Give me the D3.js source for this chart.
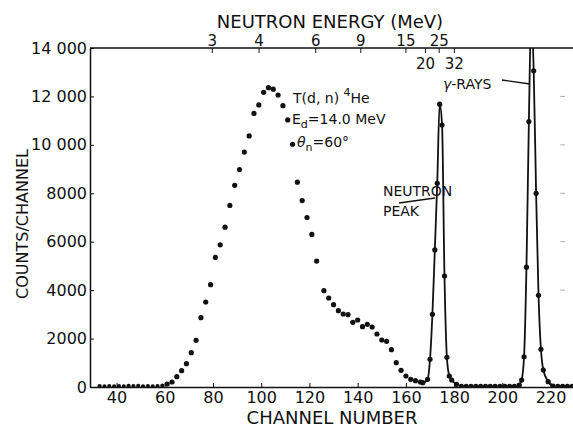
<!DOCTYPE html>
<html>
<head>
<meta charset="utf-8">
<script src="https://cdn.jsdelivr.net/npm/d3@7"></script>
<style>
  body { margin: 0; background: #fff; }
  text, tspan { font-family: "DejaVu Sans", sans-serif; fill: #111; }
</style>
</head>
<body>
<script>
// ---- data ----
var channels = [33, 35, 37, 39, 41, 43, 45, 47, 49, 51, 53, 55, 57, 59,
  61, 63, 65, 67, 69, 71, 73, 75, 77, 79, 81, 83, 85, 87, 89, 91,
  93, 95, 97, 99, 101, 103, 105, 107, 109, 111, 113, 115, 117, 119, 121, 123,
  126, 128, 130, 132, 134, 136, 138, 140, 142, 144, 146, 148, 150, 152, 154, 156, 158,
  160, 162, 164, 166, 167, 169, 170, 171, 172, 173, 174, 175, 176, 177, 178, 179, 181,
  183, 185, 187, 189, 191, 193, 195, 197, 199, 201, 203, 205, 207,
  208, 209, 210, 211, 212, 213, 214, 215, 216, 217, 219, 221, 223, 225, 227, 229];
var counts = [40, 30, 40, 30, 40, 30, 50, 40, 50, 30, 40, 30, 40, 60,
  124, 206, 425, 673, 962, 1417, 1929, 2862, 3511, 4226, 5350, 5870, 6600, 7500, 8330, 8980,
  9700, 10370, 11300, 11650, 12170, 12360, 12300, 12060, 11620, 11030, 10025, 8460, 7700, 7000, 6300, 5200,
  3980, 3676, 3400, 3153, 3015, 2987, 2672, 2767, 2491, 2590, 2478, 2189, 1941, 1888, 1541, 1004, 690,
  454, 318, 260, 206, 178, 318, 1144, 3003, 5659, 8414, 11680, 10820, 4585, 1227, 454, 290, 110,
  30, 30, 30, 30, 30, 30, 30, 30, 30, 30, 30, 30, 80,
  290, 1250, 4950, 10960, 15500, 13060, 8000, 3790, 1557, 702, 220, 40, 30, 30, 30, 30];

// channel ranges joined by the drawn curve
var neutronPeakRange = [166, 181];
var gammaPeakRange = [207, 221];

var xTickValues = [40, 60, 80, 100, 120, 140, 160, 180, 200, 220];
var yTickValues = [0, 2000, 4000, 6000, 8000, 10000, 12000, 14000];
var yTickLabels = ["0", "2000", "4000", "6000", "8000", "10 000", "12 000", "14 000"];

// neutron energy scale (MeV) and the channel where each mark sits
var energyValues   = [3, 4, 6, 9, 15, 20, 25, 32];
var energyChannels = [79.5, 98.9, 122.4, 141.1, 159.8, 167.9, 173.6, 179.9];
var energyAbove = [3, 4, 6, 9, 15, 25];
var energyBelow = [20, 32];

// ---- layout ----
var W = 573, H = 427;
var plotLeft = 90, plotTop = 48, plotBottom = 387;

var svg = d3.select("body").append("svg")
  .attr("width", W)
  .attr("height", H);

var x = d3.scaleLinear().domain([29, 229.3]).range([plotLeft, W]);
var y = d3.scaleLinear().domain([0, 14000]).range([plotBottom, plotTop]);

// energy -> pixel, piecewise through the marked channels
var e = d3.scaleLinear()
  .domain(energyValues)
  .range(energyChannels.map(function(c) { return x(c); }));

svg.append("clipPath").attr("id", "plot")
  .append("rect")
  .attr("x", plotLeft).attr("y", plotTop)
  .attr("width", W - plotLeft).attr("height", plotBottom - plotTop);

// ---- axes ----
var xAxis = d3.axisBottom(x)
  .tickValues(xTickValues)
  .tickSizeInner(-4)
  .tickSizeOuter(0)
  .tickPadding(5);

var gx = svg.append("g")
  .attr("transform", "translate(0," + plotBottom + ")")
  .call(xAxis);
gx.selectAll("text").style("font-size", "16px");

var yAxis = d3.axisLeft(y)
  .tickValues(yTickValues)
  .tickFormat(function(d, i) { return yTickLabels[i]; })
  .tickSizeInner(-4)
  .tickSizeOuter(0)
  .tickPadding(3);

var gy = svg.append("g")
  .attr("transform", "translate(" + plotLeft + ",0)")
  .call(yAxis);
gy.selectAll("text").style("font-size", "16px");

var eTop = d3.axisTop(e)
  .tickValues(energyAbove)
  .tickFormat(d3.format("d"))
  .tickSizeInner(-5)
  .tickSizeOuter(0)
  .tickPadding(2);

var ge = svg.append("g")
  .attr("transform", "translate(0," + plotTop + ")")
  .call(eTop);
ge.select(".domain").remove();
ge.selectAll("text").style("font-size", "15px");

var eBottom = d3.axisBottom(e)
  .tickValues(energyBelow)
  .tickFormat(d3.format("d"))
  .tickSizeInner(5)
  .tickSizeOuter(0)
  .tickPadding(5);

var ge2 = svg.append("g")
  .attr("transform", "translate(0," + plotTop + ")")
  .call(eBottom);
ge2.select(".domain").remove();
ge2.selectAll("text").style("font-size", "15px");

// frame: top rule across the width
svg.append("line")
  .attr("x1", plotLeft).attr("x2", W)
  .attr("y1", plotTop).attr("y2", plotTop)
  .attr("stroke", "#111").attr("stroke-width", 1.5);

svg.selectAll(".domain").attr("stroke", "#111").attr("stroke-width", 1.5);
svg.selectAll(".tick line").attr("stroke", "#111");

// faint right-hand tick marks
svg.append("g").selectAll("line")
  .data(yTickValues.slice(2, 7))
  .enter().append("line")
  .attr("x1", x(224)).attr("x2", x(226))
  .attr("y1", function(d) { return y(d); })
  .attr("y2", function(d) { return y(d); })
  .attr("stroke", "#aaa");

// ---- titles ----
svg.append("text")
  .attr("x", 330).attr("y", 28)
  .attr("text-anchor", "middle")
  .style("font-size", "18px")
  .text("NEUTRON ENERGY (MeV)");

svg.append("text")
  .attr("x", 332).attr("y", 424)
  .attr("text-anchor", "middle")
  .style("font-size", "18px")
  .text("CHANNEL NUMBER");

svg.append("text")
  .attr("transform", "translate(28,224) rotate(-90)")
  .attr("text-anchor", "middle")
  .style("font-size", "16px")
  .text("COUNTS/CHANNEL");

// ---- data ----
var pts = channels.map(function(c, i) { return { c: c, n: counts[i] }; });

var line = d3.line()
  .x(function(d) { return x(d.c); })
  .y(function(d) { return y(d.n); })
  .curve(d3.curveMonotoneX);

var plot = svg.append("g").attr("clip-path", "url(#plot)");

[neutronPeakRange, gammaPeakRange].forEach(function(r) {
  plot.append("path")
    .datum(pts.filter(function(d) { return d.c >= r[0] && d.c <= r[1]; }))
    .attr("d", line)
    .attr("fill", "none")
    .attr("stroke", "#111")
    .attr("stroke-width", 1.8);
});

plot.selectAll("circle")
  .data(pts)
  .enter()
  .append("circle")
  .attr("cx", function(d) { return x(d.c); })
  .attr("cy", function(d) { return y(d.n); })
  .attr("r", function(d) { return d.c < 60 ? 2.1 : 2.6; })
  .attr("fill", "#111");

// ---- annotations ----
var ann = svg.append("g").style("font-size", "14px");

var t1 = ann.append("text").attr("x", 293).attr("y", 103);
t1.append("tspan").text("T(d, n) ");
t1.append("tspan").attr("dy", -7).style("font-size", "11px").text("4");
t1.append("tspan").attr("dy", 7).text("He");

var t2 = ann.append("text").attr("x", 292).attr("y", 124);
t2.append("tspan").text("E");
t2.append("tspan").attr("dy", 4).style("font-size", "11px").text("d");
t2.append("tspan").attr("dy", -4).text("=14.0 MeV");

var t3 = ann.append("text").attr("x", 297).attr("y", 147);
t3.append("tspan").style("font-style", "italic").text("\u03b8");
t3.append("tspan").attr("dy", 4).style("font-size", "11px").text("n");
t3.append("tspan").attr("dy", -4).text("=60\u00b0");

ann.append("text").attr("x", 383).attr("y", 196).text("NEUTRON");
ann.append("text").attr("x", 383).attr("y", 216).text("PEAK");
svg.append("line")
  .attr("x1", 399).attr("y1", 203)
  .attr("x2", 435).attr("y2", 198)
  .attr("stroke", "#111").attr("stroke-width", 1.3);

var g1 = ann.append("text").attr("x", 443).attr("y", 89);
g1.append("tspan").style("font-style", "italic").text("\u03b3");
g1.append("tspan").text("-RAYS");
svg.append("line")
  .attr("x1", 502).attr("y1", 80)
  .attr("x2", 530).attr("y2", 84)
  .attr("stroke", "#111").attr("stroke-width", 1.3);
</script>
</body>
</html>
